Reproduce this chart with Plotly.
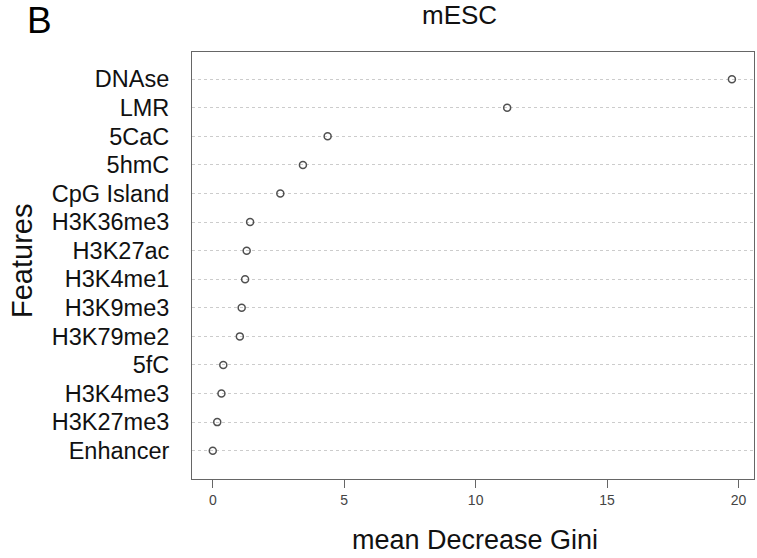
import plotly.graph_objects as go

features = ["DNAse", "LMR", "5CaC", "5hmC", "CpG Island", "H3K36me3", "H3K27ac",
            "H3K4me1", "H3K9me3", "H3K79me2", "5fC", "H3K4me3", "H3K27me3", "Enhancer"]
gini = [19.75, 11.2, 4.37, 3.43, 2.57, 1.42, 1.29, 1.23, 1.10, 1.03, 0.40, 0.33, 0.17, 0.0]
x_ticks = [0, 5, 10, 15, 20]

n = len(features)
ypos = [n - i for i in range(n)]

W, H = 757, 558
L, R, T, B = 192, 754, 52, 479

def px(x):
    return (x - L) / (R - L)

def py(y):
    return (B - y) / (B - T)

fig = go.Figure()
fig.add_trace(go.Scatter(
    x=gini, y=ypos, mode="markers",
    marker=dict(symbol="circle-open", size=7, color="#505050", line=dict(width=1.5, color="#505050")),
    showlegend=False, hoverinfo="skip",
))

fig.update_layout(
    width=W, height=H,
    margin=dict(l=L, r=W - R, t=T, b=H - B, autoexpand=False),
    paper_bgcolor="white", plot_bgcolor="white",
    font=dict(family="Liberation Sans, Arial, sans-serif", color="#111111"),
    xaxis=dict(
        range=[-0.79, 20.59], tickvals=x_ticks, ticktext=[str(v) for v in x_ticks],
        showgrid=False, zeroline=False, showline=True, mirror=True,
        linecolor="#666666", linewidth=1, automargin=False,
        ticks="outside", ticklen=8, tickwidth=1, tickcolor="#666666",
        tickfont=dict(size=14, color="#444444"),
    ),
    yaxis=dict(
        range=[0.01, 14.95], tickvals=ypos, ticktext=features,
        showgrid=True, gridcolor="#cccccc", gridwidth=1, griddash="dot",
        zeroline=False, showline=True, mirror=True, automargin=False,
        linecolor="#666666", linewidth=1, ticks="",
        ticklabelstandoff=17,
        tickfont=dict(size=23.5, color="#111111"),
    ),
    annotations=[
        dict(text="mESC", x=px(459), y=py(15), xref="paper", yref="paper",
             xanchor="center", yanchor="middle", showarrow=False,
             font=dict(size=26, color="#111111")),
        dict(text="B", x=px(39), y=py(21), xref="paper", yref="paper",
             xanchor="center", yanchor="middle", showarrow=False,
             font=dict(size=37, color="#000000")),
        dict(text="Features", x=px(22), y=py(261), xref="paper", yref="paper",
             xanchor="center", yanchor="middle", showarrow=False, textangle=-90,
             font=dict(size=29, color="#111111")),
        dict(text="mean Decrease Gini", x=px(475), y=py(540), xref="paper", yref="paper",
             xanchor="center", yanchor="middle", showarrow=False,
             font=dict(size=27, color="#111111")),
    ],
)

fig.write_html(
    "out.html",
    config={"displayModeBar": False},
    post_script="document.body.style.margin='0';document.body.style.padding='0';",
)
